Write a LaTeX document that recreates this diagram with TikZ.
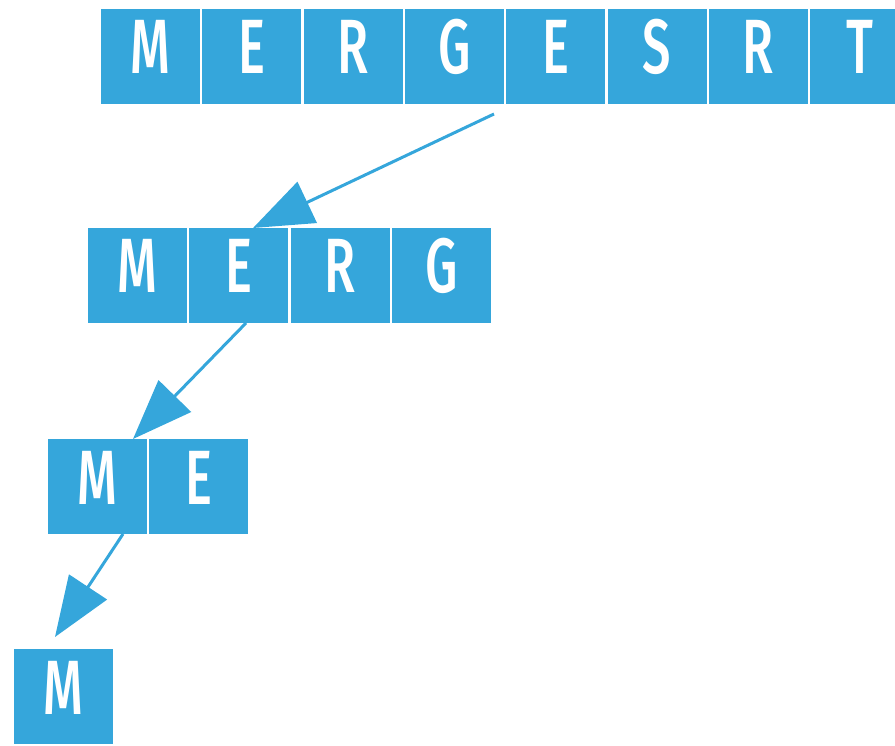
\documentclass[tikz,border=0pt]{standalone}
\usepackage{fontspec}
\setmainfont{Fira Sans}[BoldFont={Fira Sans Medium}]
\usetikzlibrary{arrows.meta}
\definecolor{cellblue}{HTML}{35A6DB}
\tikzset{
  cell/.style={fill=cellblue, draw=none, inner sep=0pt, outer sep=0pt,
    minimum width=99pt, minimum height=95pt,
    text height=53pt, text depth=18pt, text=white,
    font=\fontsize{77}{80}\selectfont\bfseries},
  split/.style={draw=cellblue, line width=3pt,
    -{Triangle[length=60pt,width=45pt]}}
}
\newcommand{\cellletter}[1]{\scalebox{0.66}[1]{#1}}
\begin{document}
\begin{tikzpicture}[x=1pt,y=-1pt]
  \useasboundingbox (0,0) rectangle (895,746);
  % full array
  \foreach \ch [count=\i from 0] in {M,E,R,G,E,S,R,T}
    \node[cell] (a\i) at (150.5+101.3*\i,56.5) {\cellletter{\ch}};
  % first half
  \foreach \ch [count=\i from 0] in {M,E,R,G}
    \node[cell] (b\i) at (137.5+101.3*\i,275.5) {\cellletter{\ch}};
  % first quarter
  \foreach \ch [count=\i from 0] in {M,E}
    \node[cell] (c\i) at (97.5+101.3*\i,486.5) {\cellletter{\ch}};
  % single element
  \node[cell] (d0) at (63.5,696.5) {\cellletter{M}};
  % arrow end points
  \coordinate (s1) at (494,114);
  \coordinate (t1) at (253,228);
  \coordinate (s2) at (246,323);
  \coordinate (t2) at (133,439);
  \coordinate (s3) at (123,534);
  \coordinate (t3) at (55,637);
  \draw[split] (s1) -- (t1);
  \draw[split] (s2) -- (t2);
  \draw[split] (s3) -- (t3);
\end{tikzpicture}
\end{document}
